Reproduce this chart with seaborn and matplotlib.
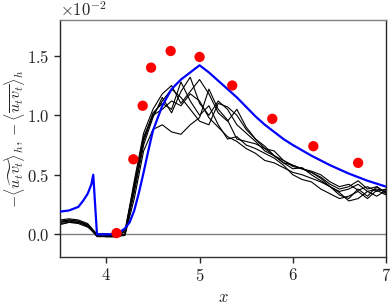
import matplotlib
matplotlib.use('Agg')
import matplotlib.pyplot as plt
import numpy as np
import pandas as pd
import seaborn as sns
from matplotlib.ticker import ScalarFormatter

sns.set_style('ticks')
plt.rcParams['font.family'] = 'serif'
plt.rcParams['font.serif'] = ['cmr10']
plt.rcParams['mathtext.fontset'] = 'cm'
plt.rcParams['axes.formatter.use_mathtext'] = True
plt.rcParams['font.size'] = 12

# Data (values in units of 1e-2)
x_runs = [3.5, 3.6, 3.7, 3.8, 3.9, 4.0, 4.1, 4.2, 4.3, 4.4, 4.5, 4.6, 4.7, 4.8, 4.9, 5.0,
          5.1, 5.2, 5.3, 5.4, 5.5, 5.6, 5.7, 5.8, 5.9, 6.0, 6.1, 6.2, 6.3, 6.4, 6.5, 6.6,
          6.7, 6.8, 6.9, 7.0]
run1 = [0.12, 0.13, 0.12, 0.09, 0.0, 0.0, 0.0, 0.02, 0.45, 0.85, 1.05, 1.18, 1.25, 1.10, 1.20, 1.30,
        1.18, 1.02, 0.95, 1.05, 0.90, 0.80, 0.72, 0.70, 0.62, 0.58, 0.55, 0.52, 0.48, 0.42, 0.38, 0.40,
        0.45, 0.38, 0.40, 0.35]
run2 = [0.11, 0.12, 0.11, 0.08, -0.01, -0.02, -0.02, 0.0, 0.35, 0.75, 0.98, 1.15, 1.02, 1.20, 1.32, 1.10,
        1.00, 1.12, 1.05, 0.92, 0.85, 0.78, 0.70, 0.66, 0.60, 0.55, 0.56, 0.50, 0.45, 0.40, 0.33, 0.30,
        0.38, 0.32, 0.40, 0.34]
run3 = [0.10, 0.11, 0.10, 0.07, -0.02, -0.02, -0.02, -0.01, 0.30, 0.70, 0.88, 0.92, 0.86, 0.84, 0.92, 0.98,
        1.22, 1.05, 0.96, 0.80, 0.78, 0.76, 0.72, 0.66, 0.60, 0.58, 0.55, 0.53, 0.50, 0.44, 0.40, 0.42,
        0.37, 0.40, 0.36, 0.38]
run4 = [0.09, 0.10, 0.09, 0.06, 0.0, 0.0, 0.0, 0.03, 0.42, 0.80, 1.02, 1.10, 1.05, 1.28, 1.12, 1.00,
        1.08, 0.92, 0.80, 0.82, 0.75, 0.72, 0.68, 0.64, 0.58, 0.50, 0.46, 0.44, 0.38, 0.34, 0.30, 0.32,
        0.36, 0.30, 0.37, 0.33]
run5 = [0.08, 0.10, 0.10, 0.07, -0.01, -0.02, -0.02, 0.02, 0.38, 0.78, 1.00, 1.12, 1.22, 1.15, 1.05, 0.95,
        0.92, 1.10, 1.07, 1.00, 0.88, 0.80, 0.74, 0.66, 0.62, 0.57, 0.55, 0.52, 0.47, 0.40, 0.36, 0.38,
        0.42, 0.36, 0.38, 0.36]
run6 = [0.10, 0.12, 0.11, 0.08, 0.0, -0.01, -0.01, 0.0, 0.40, 0.82, 1.00, 1.05, 1.12, 1.08, 1.18, 1.12,
        0.98, 0.90, 0.82, 0.78, 0.72, 0.68, 0.62, 0.60, 0.56, 0.52, 0.50, 0.47, 0.44, 0.40, 0.35, 0.28,
        0.30, 0.36, 0.32, 0.37]

x_mean = [3.5, 3.6, 3.7, 3.75, 3.8, 3.84, 3.86, 3.9, 4.0, 4.1, 4.15, 4.2, 4.25, 4.3, 4.35, 4.4,
          4.45, 4.5, 4.6, 4.7, 4.8, 4.9, 5.0, 5.1, 5.2, 5.3, 5.4, 5.5, 5.6, 5.7, 5.8, 5.9,
          6.0, 6.2, 6.4, 6.6, 6.8, 7.0]
y_mean = [0.19, 0.20, 0.23, 0.28, 0.34, 0.42, 0.50, 0.0, 0.0, 0.0, 0.02, 0.05, 0.10, 0.20, 0.35, 0.52,
          0.70, 0.87, 1.08, 1.22, 1.30, 1.36, 1.42, 1.36, 1.29, 1.22, 1.15, 1.07, 0.99, 0.92, 0.86, 0.80,
          0.75, 0.66, 0.58, 0.51, 0.45, 0.40]

x_exp = [4.11, 4.29, 4.39, 4.48, 4.69, 5.0, 5.35, 5.78, 6.22, 6.70]
y_exp = [0.01, 0.63, 1.08, 1.40, 1.54, 1.49, 1.25, 0.97, 0.74, 0.60]

scale = 1e-2
runs = [run1, run2, run3, run4, run5, run6]
df_runs = pd.concat(
    [pd.DataFrame({'x': x_runs, 'y': np.array(r) * scale, 'run': i}) for i, r in enumerate(runs)],
    ignore_index=True)

fig = plt.figure(figsize=(3.9, 3.04), dpi=100)
ax = fig.add_axes([0.153, 0.155, 0.837, 0.779])

ax.axhline(0, color='gray', linewidth=1, zorder=1)
sns.lineplot(data=df_runs, x='x', y='y', units='run', estimator=None, sort=False,
             color='black', linewidth=0.8, ax=ax, zorder=2)
ax.plot(x_mean, np.array(y_mean) * scale, color='blue', linewidth=1.6, zorder=3)
sns.scatterplot(x=x_exp, y=np.array(y_exp) * scale, color='red', s=55, edgecolor='none',
                ax=ax, zorder=4)

ax.set_xlim(3.5, 7)
ax.set_ylim(-0.0019, 0.018)
ax.set_xticks([4, 5, 6, 7])
ax.set_yticks([0, 0.005, 0.01, 0.015])
fmt = ScalarFormatter(useMathText=True)
fmt.set_powerlimits((-1, 1))
ax.yaxis.set_major_formatter(fmt)

ax.set_xlabel('$x$')
ax.set_ylabel(r'$-\langle\widetilde{u_t v_t}\rangle_h,-\langle\overline{u_t v_t}\rangle_h$',
              fontsize=11.5)
ax.yaxis.set_label_coords(-0.1, 0.5)
ax.tick_params(direction='out', length=4, width=1)

ax.spines['top'].set_color('gray')
ax.spines['bottom'].set_color('#333333')
for s in ax.spines.values():
    s.set_linewidth(1)

plt.savefig('out.png', dpi=100)
